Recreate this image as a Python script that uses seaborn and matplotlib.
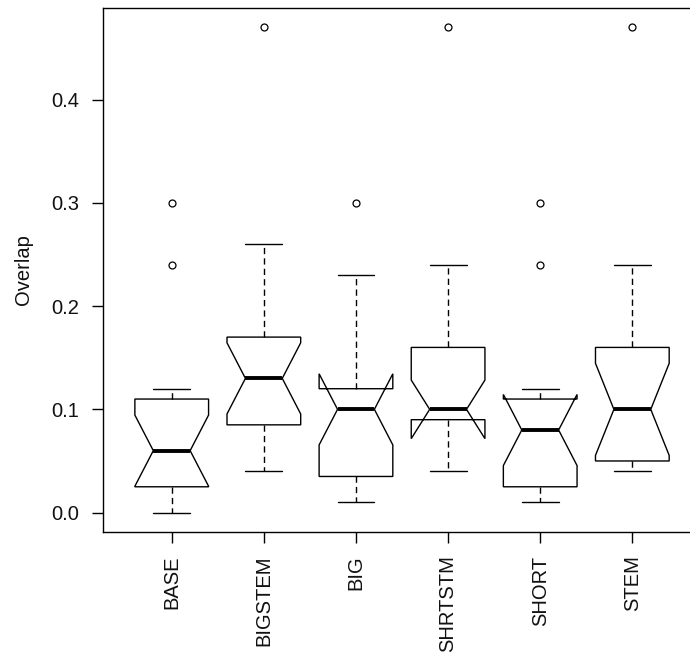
import pandas as pd
import matplotlib
matplotlib.use('Agg')
import matplotlib.pyplot as plt
import seaborn as sns

# overlap values per condition (15 runs each)
groups = ['BASE', 'BIGSTEM', 'BIG', 'SHRTSTM', 'SHORT', 'STEM']
base = [0.00, 0.01, 0.02, 0.02, 0.03, 0.05, 0.06, 0.06, 0.08, 0.10, 0.11, 0.11, 0.12, 0.24, 0.30]
bigstem = [0.04, 0.05, 0.07, 0.08, 0.09, 0.10, 0.12, 0.13, 0.14, 0.16, 0.17, 0.17, 0.21, 0.26, 0.47]
big = [0.01, 0.02, 0.03, 0.03, 0.04, 0.06, 0.08, 0.10, 0.10, 0.11, 0.12, 0.12, 0.14, 0.23, 0.30]
shrtstm = [0.04, 0.06, 0.08, 0.09, 0.09, 0.10, 0.10, 0.10, 0.12, 0.14, 0.16, 0.16, 0.19, 0.24, 0.47]
short = [0.01, 0.01, 0.02, 0.02, 0.03, 0.05, 0.07, 0.08, 0.09, 0.10, 0.11, 0.11, 0.12, 0.24, 0.30]
stem = [0.04, 0.04, 0.05, 0.05, 0.05, 0.07, 0.09, 0.10, 0.12, 0.14, 0.16, 0.16, 0.20, 0.24, 0.47]
y_ticks = [0.0, 0.1, 0.2, 0.3, 0.4]


def build_frame():
    """
    Puts the group lists into one long dataframe for seaborn.
    """
    rows = []
    for name, vals in zip(groups, [base, bigstem, big, shrtstm, short, stem]):
        for v in vals:
            rows.append({'group': name, 'Overlap': v})
    return pd.DataFrame(rows)


sns.set_theme(style='white')
plt.rcParams['font.family'] = ['Liberation Sans', 'DejaVu Sans']

df = build_frame()

fig = plt.figure(figsize=(6.9, 6.56), dpi=100)
# R-style plot region, cut off on the right like the original image
ax = fig.add_axes([103 / 690, 1 - 532 / 656, 597.5 / 690, 524 / 656])

sns.boxplot(data=df, x='group', y='Overlap', order=groups, ax=ax,
            color='white', saturation=1, linecolor='black', linewidth=1.0,
            width=0.8, whis=1.5, fliersize=5, notch=True,
            whiskerprops={'linestyle': (0, (4.5, 3))},
            medianprops={'linewidth': 2.8},
            flierprops={'marker': 'o', 'markerfacecolor': 'none',
                        'markeredgecolor': 'black', 'markeredgewidth': 0.9})

ax.set_xlim(-0.746, 5.74)
ax.set_ylim(-0.0188, 0.4888)
ax.set_yticks(y_ticks)
ax.set_yticklabels([f'{t:.1f}' for t in y_ticks])
ax.set_xticks(range(len(groups)))
ax.set_xticklabels(groups, rotation=90, va='top', ha='center')

ax.tick_params(axis='both', which='major', bottom=True, left=True,
               direction='out', length=8, width=1.0, pad=9,
               labelsize=14.5, color='black', labelcolor='#111111')
for s in ax.spines.values():
    s.set_visible(True)
    s.set_color('black')
    s.set_linewidth(1.0)

ax.set_xlabel('')
ax.set_ylabel('Overlap', fontsize=14.5, color='#111111')
ax.yaxis.set_label_coords(-0.117, 0.5)

plt.savefig('out.png', dpi=100)
